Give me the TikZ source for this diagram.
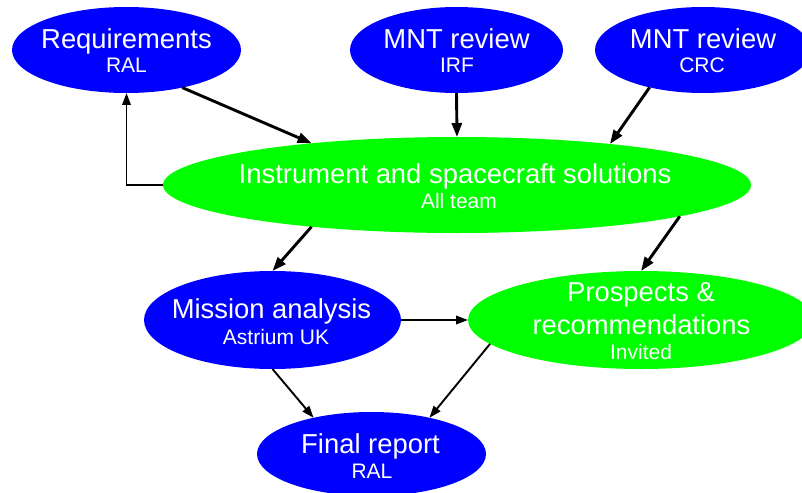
\documentclass[tikz,border=0pt]{standalone}
\usepackage{fontspec}
\setmainfont{Liberation Sans}
\usetikzlibrary{arrows.meta,shapes.geometric}
\definecolor{nblue}{RGB}{0,0,255}
\definecolor{ngreen}{RGB}{0,255,0}
\begin{document}
\begin{tikzpicture}[x=1pt,y=-1pt,
  bluebox/.style={ellipse, fill=nblue, draw=none, inner sep=0pt, outer sep=0pt},
  greenbox/.style={ellipse, fill=ngreen, draw=none, inner sep=0pt, outer sep=0pt},
  maintext/.style={text=white, font=\fontsize{27.4}{33}\selectfont, inner sep=0pt, anchor=base},
  subtext/.style={text=white, font=\fontsize{21}{25}\selectfont, inner sep=0pt, anchor=base},
  thickarrow/.style={-{Triangle[length=14pt,width=10pt]}, line width=2.9pt},
  thinarrow/.style={-{Triangle[length=12pt,width=8.5pt]}, line width=1.9pt}]
\useasboundingbox (0,0) rectangle (802,492);
\clip (0,0) rectangle (802,492);

% ellipses
\node[bluebox, minimum width=229pt, minimum height=86pt] (req) at (126.5,50) {};
\node[bluebox, minimum width=213pt, minimum height=86pt] (irf) at (456.5,50) {};
\node[bluebox, minimum width=216pt, minimum height=86pt] (crc) at (703,50) {};
\node[greenbox, minimum width=588pt, minimum height=96pt] (ins) at (457,185) {};
\node[bluebox, minimum width=257pt, minimum height=98pt] (mis) at (272.5,320) {};
\node[greenbox, minimum width=346pt, minimum height=98pt] (pro) at (641,320) {};
\node[bluebox, minimum width=229pt, minimum height=84pt] (fin) at (371.5,454) {};

% texts
\node[maintext] (reqa) at (126.5,49) {Requirements};
\node[subtext]  (reqb) at (126.5,73) {RAL};
\node[maintext] (irfa) at (456.5,49) {MNT review};
\node[subtext]  (irfb) at (457,73) {IRF};
\node[maintext] (crca) at (703,49) {MNT review};
\node[subtext]  (crcb) at (702,73) {CRC};
\node[maintext] (insa) at (455,183) {Instrument and spacecraft solutions};
\node[subtext]  (insb) at (459,208) {All team};
\node[maintext] (misa) at (271.5,318) {Mission analysis};
\node[subtext]  (misb) at (276,344) {Astrium UK};
\node[maintext] (proa) at (641,301) {Prospects \&};
\node[maintext] (prob) at (641.5,334) {recommendations};
\node[subtext]  (proc) at (641,359) {Invited};
\node[maintext] (fina) at (370.5,453) {Final report};
\node[subtext]  (finb) at (372,478) {RAL};

% connectors
\draw[thickarrow] (req.-34) -- (ins.164);
\draw[thickarrow] (irf.south) -- (ins.north);
\draw[thickarrow] (crc.-145) -- (ins.15);
\draw[thickarrow] (ins.-164) -- (mis.north);
\draw[thickarrow] (ins.-8) -- (pro.north);
\draw[thinarrow] (ins.west) -| (req.south);
\draw[thinarrow] (mis.east) -- (pro.west);
\draw[thinarrow] (mis.south) -- (fin.148);
\draw[thinarrow] (pro.-171) -- (fin.32);
\end{tikzpicture}
\end{document}
